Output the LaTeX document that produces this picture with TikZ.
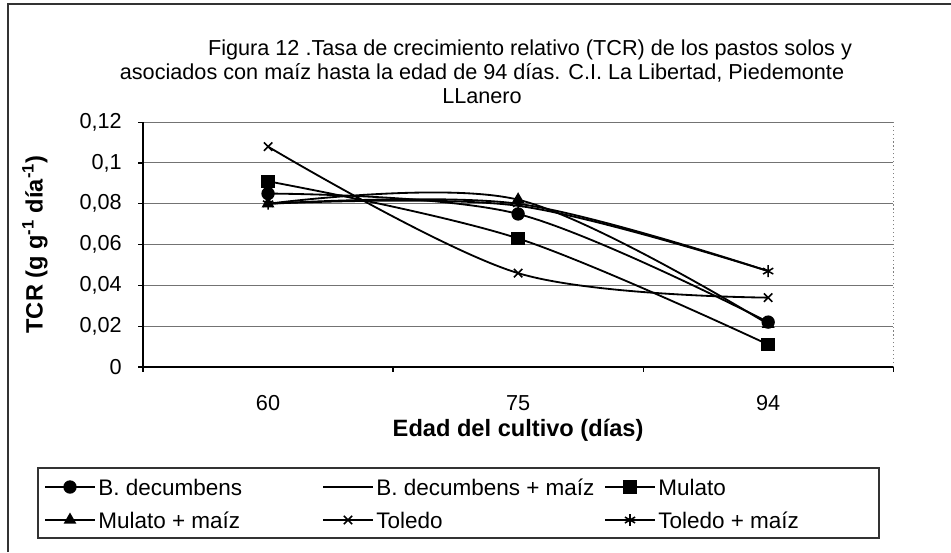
\documentclass[tikz,border=0pt]{standalone}
\usepackage{fontspec}
\setmainfont{Liberation Sans}
\usetikzlibrary{plotmarks}
\tikzset{frame/.style={black!80, line width=0.8pt},
  grid line/.style={black!55, line width=0.7pt},
  axis/.style={black, line width=0.9pt},
  series/.style={black, line width=1.3pt, smooth, tension=0.55, mark size=4.2pt, mark options={solid, fill=black, line width=1.1pt}},
  tick label/.style={font=\fontsize{15.4}{18}\selectfont, inner sep=0pt},
  axis title/.style={font=\fontsize{16.8}{18}\selectfont\bfseries, inner sep=0pt},
  legend text/.style={font=\fontsize{16}{18}\selectfont, inner sep=0pt}}

\begin{document}
\begin{tikzpicture}[x=0.025cm, y=-0.025cm]
  \useasboundingbox (0,0) rectangle (951,552);
  \draw[frame] (8,552) -- (8,4) -- (951,4);
  \node[align=center, font=\fontsize{15.4}{17}\selectfont] (title) at (482,72)
    {\hspace*{2.4cm}Figura 12 .Tasa de crecimiento relativo (TCR) de los pastos solos y\\
     asociados con maíz hasta la edad de 94 días. C.I. La Libertad, Piedemonte\\
     LLanero};
  \begin{scope}[shift={(143,367)}, x=6.25cm, y=0.51cm]
    \coordinate (o) at (0,0);
    \foreach \v/\t in {0/0, 2/{0,02}, 4/{0,04}, 6/{0,06}, 8/{0,08}, 10/{0,1}, 12/{0,12}} {
      \draw[grid line] (0,\v) -- (3,\v);
      \draw[axis] (0,\v) -- ++(-0.02,0);
      \node[tick label, anchor=east] (y\v) at (-0.084,\v) {\t};
    }
    \draw[black!50, dotted, line width=0.8pt] (3,0) -- (3,12);
    \draw[axis] (0,12) -- (o) -- (3,0);
    \foreach \i in {0,...,3} \draw[axis] (\i,0) -- (\i,-0.25);
    \foreach \c [count=\i] in {60,75,94}
      \node[tick label] (x\c) at (\i-0.5,-1.75) {\c};
    \node[axis title] (xt) at (1.5,-3.1) {Edad del cultivo (días)};
    \node[axis title, rotate=90] (yt) at (-0.432,6) {TCR (g g\textsuperscript{-1} día\textsuperscript{-1})};
    \draw[series] plot coordinates {(0.5,8.0) (1.5,7.9) (2.5,4.7)};
    \draw[series] plot[mark=x] coordinates {(0.5,10.8) (1.5,4.6) (2.5,3.4)};
    \draw[series] plot[mark=square*] coordinates {(0.5,9.1) (1.5,6.3) (2.5,1.1)};
    \draw[series] plot[mark=*] coordinates {(0.5,8.5) (1.5,7.5) (2.5,2.2)};
    \draw[series] plot[mark=triangle*] coordinates {(0.5,8.0) (1.5,8.2) (2.5,2.1)};
    \draw[series] plot[mark=asterisk] coordinates {(0.5,8.0) (1.5,8.0) (2.5,4.7)};
  \end{scope}
  \draw[frame] (38,468) rectangle (879,538);
  \foreach \mk/\lx/\ly/\txt [count=\i] in {*/45/487/B. decumbens, none/323/487/{B. decumbens + maíz},
      square*/605/487/Mulato, triangle*/45/520/{Mulato + maíz}, x/323/520/Toledo,
      asterisk/605/520/{Toledo + maíz}} {
    \draw[series] plot[mark=\mk, mark indices={2}] coordinates {(\lx,\ly) (\lx+25,\ly) (\lx+50,\ly)};
    \node[legend text, anchor=west] (lg\i) at (\lx+53,\ly) {\txt};
  }
\end{tikzpicture}
\end{document}
